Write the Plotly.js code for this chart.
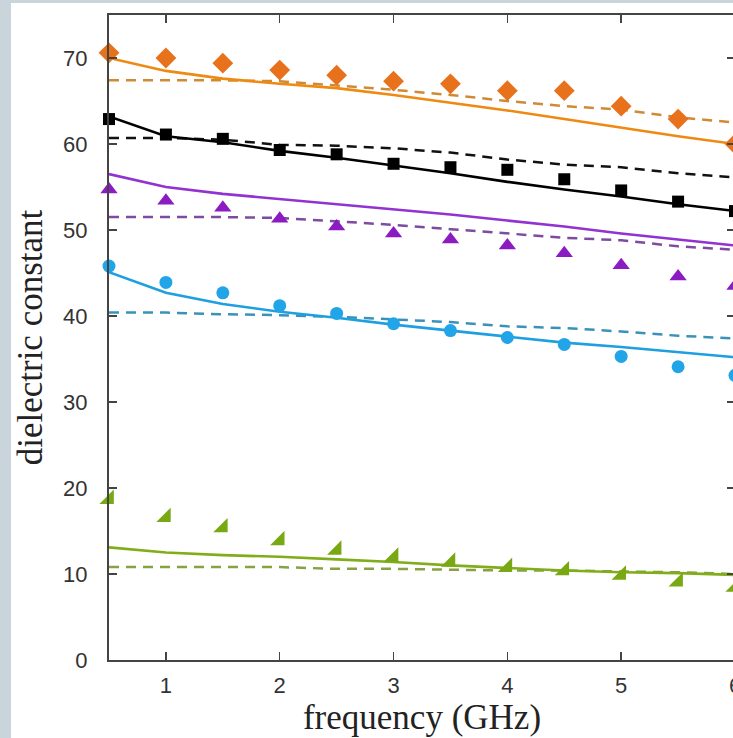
<!DOCTYPE html>
<html>
<head>
<meta charset="utf-8">
<script src="https://cdn.plot.ly/plotly-3.0.1.min.js"></script>
<style>
  html, body { margin: 0; padding: 0; width: 733px; height: 738px; overflow: hidden; background: #c9d4db; }
  #plot { position: absolute; left: 11px; top: 3px; width: 740px; height: 735px; }
</style>
</head>
<body>
<div id="plot"></div>
<script>
// frequency (GHz)
const freq = [0.5, 1, 1.5, 2, 2.5, 3, 3.5, 4, 4.5, 5, 5.5, 6];

// orange series
const orangeMeas   = [70.6, 70.0, 69.4, 68.6, 68.0, 67.3, 67.0, 66.2, 66.2, 64.4, 62.9, 60.0];
const orangeSolid  = [70.0, 68.5, 67.6, 67.0, 66.5, 65.7, 64.8, 63.9, 62.9, 61.9, 60.9, 60.0];
const orangeDashed = [67.4, 67.4, 67.4, 67.3, 66.8, 66.3, 65.7, 65.0, 64.4, 64.0, 63.1, 62.5];

// black series
const blackMeas   = [62.9, 61.1, 60.6, 59.3, 58.8, 57.7, 57.3, 57.0, 55.9, 54.6, 53.3, 52.2];
const blackSolid  = [63.2, 60.9, 60.2, 59.2, 58.4, 57.5, 56.6, 55.6, 54.7, 53.9, 53.0, 52.2];
const blackDashed = [60.7, 60.7, 60.5, 59.9, 59.8, 59.5, 59.0, 58.2, 57.6, 57.3, 56.6, 56.1];

// purple series
const purpleMeas   = [54.7, 53.4, 52.6, 51.3, 50.4, 49.6, 48.9, 48.2, 47.3, 45.9, 44.6, 43.5];
const purpleSolid  = [56.5, 55.0, 54.2, 53.6, 53.0, 52.4, 51.8, 51.1, 50.4, 49.6, 48.9, 48.2];
const purpleDashed = [51.5, 51.5, 51.5, 51.4, 51.0, 50.6, 50.1, 49.6, 49.1, 48.8, 48.1, 47.7];

// blue series
const blueMeas   = [45.8, 43.9, 42.7, 41.2, 40.3, 39.1, 38.3, 37.5, 36.7, 35.3, 34.1, 33.1];
const blueSolid  = [45.1, 42.7, 41.4, 40.5, 39.8, 39.0, 38.3, 37.6, 36.9, 36.4, 35.8, 35.2];
const blueDashed = [40.4, 40.4, 40.2, 40.1, 39.9, 39.6, 39.3, 38.8, 38.6, 38.2, 37.7, 37.4];

// green series
const greenMeas   = [18.7, 16.6, 15.4, 13.9, 12.8, 12.0, 11.4, 10.8, 10.4, 9.9, 9.1, 8.5];
const greenSolid  = [13.1, 12.5, 12.2, 12.0, 11.7, 11.4, 11.0, 10.7, 10.4, 10.2, 10.1, 9.9];
const greenDashed = [10.8, 10.8, 10.8, 10.8, 10.6, 10.6, 10.5, 10.4, 10.4, 10.3, 10.2, 10.0];

const xTicks = [1, 2, 3, 4, 5, 6];
const yTicks = [0, 10, 20, 30, 40, 50, 60, 70];

const groups = [
  {meas: orangeMeas, solid: orangeSolid, dashed: orangeDashed, mc: '#e8711c', sc: '#ee8a12', dc: '#d08a36', sym: 'diamond', size: 16},
  {meas: blackMeas, solid: blackSolid, dashed: blackDashed, mc: '#000000', sc: '#000000', dc: '#111111', sym: 'square', size: 12},
  {meas: purpleMeas, solid: purpleSolid, dashed: purpleDashed, mc: '#8a1cc2', sc: '#9232d0', dc: '#7d4ca0', sym: 'triangle-up', size: 15},
  {meas: blueMeas, solid: blueSolid, dashed: blueDashed, mc: '#22a4e8', sc: '#1d9fe0', dc: '#3a92b8', sym: 'circle', size: 13},
  {meas: greenMeas, solid: greenSolid, dashed: greenDashed, mc: '#78a912', sc: '#80ad1a', dc: '#86a242', sym: 'triangle-se', size: 16}
];

const traces = [];
groups.forEach(g => {
  traces.push({x: freq, y: g.dashed, mode: 'lines', type: 'scatter',
    line: {color: g.dc, width: 2.5, dash: '10px,7px'}, hoverinfo: 'skip'});
  traces.push({x: freq, y: g.solid, mode: 'lines', type: 'scatter',
    line: {color: g.sc, width: 2.6}, hoverinfo: 'skip'});
});
groups.forEach(g => {
  traces.push({x: freq, y: g.meas, mode: 'markers', type: 'scatter', cliponaxis: false,
    marker: {symbol: g.sym, size: g.size, color: g.mc, line: {width: 0}}});
});

const tickFont = {family: 'Liberation Sans, Arial, sans-serif', size: 22, color: '#333333'};
const titleFont = {family: 'Liberation Serif, Times New Roman, serif', size: 35, color: '#222222'};

const layout = {
  width: 740, height: 735,
  margin: {l: 98, r: 16, t: 12, b: 78},
  paper_bgcolor: '#ffffff', plot_bgcolor: '#ffffff',
  showlegend: false,
  xaxis: {
    range: [0.5, 6], tickvals: xTicks, ticktext: xTicks.map(String),
    ticks: 'inside', ticklen: 8, tickwidth: 1.5, tickcolor: '#444',
    showline: true, linecolor: '#444', linewidth: 2, mirror: 'allticks',
    showgrid: false, zeroline: false, tickfont: tickFont,
    ticklabelstandoff: 5,
    title: {text: 'frequency (GHz)', font: titleFont, standoff: 1}
  },
  yaxis: {
    range: [0, 75], tickvals: yTicks, ticktext: yTicks.map(String),
    ticks: 'inside', ticklen: 8, tickwidth: 1.5, tickcolor: '#444',
    showline: true, linecolor: '#444', linewidth: 2, mirror: 'allticks',
    showgrid: false, zeroline: false, tickfont: tickFont,
    ticklabelstandoff: 15,
    title: {text: 'dielectric constant', font: titleFont, standoff: 19}
  }
};

Plotly.newPlot('plot', traces, layout, {displayModeBar: false, staticPlot: true});
</script>
</body>
</html>
